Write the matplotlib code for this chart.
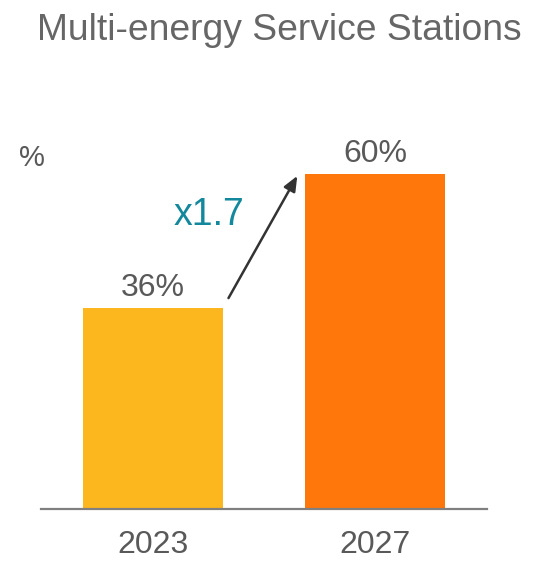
import matplotlib
matplotlib.use("Agg")
import matplotlib.pyplot as plt

years = ["2023", "2027"]
shares = [36, 60]
bar_colors = ["#FDB71E", "#FF760A"]
growth_label = "x1.7"

plt.rcParams["font.family"] = ["Liberation Sans", "DejaVu Sans"]
text_gray = "#595959"

fig = plt.figure(figsize=(5.54, 5.61), dpi=100)
ax = fig.add_axes([41 / 554, 52 / 561, 446 / 554, 409 / 561])

x = list(range(len(years)))
ax.bar(x, shares, width=0.63, color=bar_colors, zorder=2)
ax.set_xlim(-0.505, 1.505)
ax.set_ylim(0, 73.3)

for xi, v in zip(x, shares):
    ax.text(xi, v + 1.0, f"{v}%", ha="center", va="bottom",
            fontsize=23, color=text_gray)

for s in ["top", "right", "left"]:
    ax.spines[s].set_visible(False)
ax.spines["bottom"].set_color("#808080")
ax.spines["bottom"].set_linewidth(1.6)
ax.set_yticks([])
ax.set_xticks(x)
ax.set_xticklabels(years, fontsize=23, color=text_gray)
ax.tick_params(axis="x", length=0, pad=15)

# growth arrow between the bars
ax.annotate("", xy=(x[1] - 0.35, shares[1] - 0.3),
            xytext=(x[0] + 0.34, shares[0] + 1.8),
            arrowprops=dict(arrowstyle="-|>,head_length=0.9,head_width=0.38",
                            color="#333333", lw=1.8, shrinkA=0, shrinkB=0))
ax.text(0.25, 52.7, growth_label, ha="center", va="center",
        fontsize=27, color="#13879C")

fig.text(32 / 554, 1 - 158 / 561, "%", ha="center", va="center",
         fontsize=21, color=text_gray)
fig.text(279 / 554, 1 - 31 / 561, "Multi-energy Service Stations",
         ha="center", va="center", fontsize=26.8, color="#666666")

fig.savefig("out.png", dpi=100, facecolor="white")
